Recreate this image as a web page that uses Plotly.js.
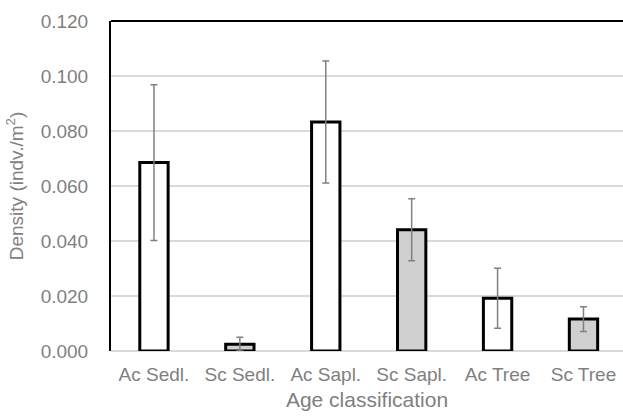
<!DOCTYPE html>
<html>
<head>
<meta charset="utf-8">
<script src="https://cdn.plot.ly/plotly-3.0.1.min.js"></script>
<style>html,body{margin:0;padding:0;background:#fff;}#chart{width:623px;height:418px;}</style>
</head>
<body>
<div id="chart"></div>
<script>
const categories = ["Ac Sedl.", "Sc Sedl.", "Ac Sapl.", "Sc Sapl.", "Ac Tree", "Sc Tree"];
const density = [0.0685, 0.0025, 0.0833, 0.0441, 0.0192, 0.0116];
const errorPlusMinus = [0.0283, 0.0025, 0.0222, 0.0113, 0.0109, 0.0045];

const fillColors = categories.map(c => c.startsWith("Sc") ? "#d0d0d0" : "#ffffff");
const gray = "#7f7f7f";
const font = "Liberation Sans, Arial, sans-serif";

const trace = {
  type: "bar",
  x: categories,
  y: density,
  width: 0.33,
  marker: { color: fillColors, line: { color: "#000000", width: 3 } },
  error_y: { type: "data", array: errorPlusMinus, visible: true, color: "#808080", thickness: 1.5, width: 3.5 },
  hoverinfo: "none"
};

const layout = {
  width: 623, height: 418,
  margin: { l: 111, r: 0, t: 21, b: 67 },
  paper_bgcolor: "#ffffff", plot_bgcolor: "#ffffff",
  showlegend: false,
  font: { family: font, color: gray, size: 19 },
  xaxis: {
    range: [-0.5, 5.46],
    showgrid: false, showline: false, ticks: "",
    ticklabelstandoff: 10,
    tickfont: { size: 19, color: gray },
    title: { text: "Age classification", font: { size: 21, color: gray }, standoff: 8 }
  },
  yaxis: {
    range: [0, 0.12], dtick: 0.02, tickformat: ".3f",
    showgrid: true, gridcolor: "#d9d9d9", gridwidth: 1.5,
    zeroline: true, zerolinecolor: "#d9d9d9", zerolinewidth: 1.5,
    showline: true, linecolor: "#000000", linewidth: 2,
    ticks: "", ticklabelstandoff: 17,
    tickfont: { size: 19, color: gray },
    title: { text: "Density (indv./m<sup>2</sup>)", font: { size: 19, color: gray }, standoff: 12 }
  },
  shapes: [
    { type: "line", xref: "paper", yref: "paper", x0: 0, x1: 1, y0: 1, y1: 1, line: { color: "#000000", width: 2 } }
  ]
};

Plotly.newPlot("chart", [trace], layout, { displayModeBar: false, staticPlot: true });
</script>
</body>
</html>
